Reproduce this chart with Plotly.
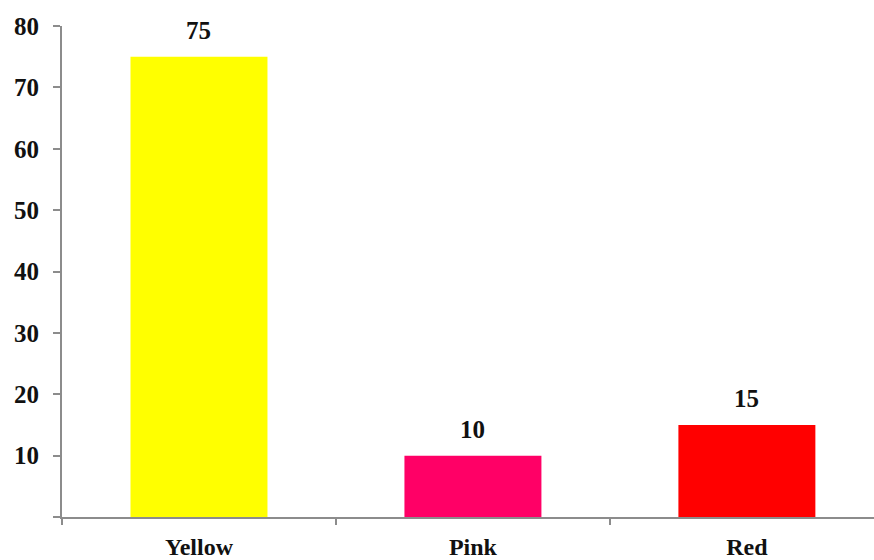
import plotly.graph_objects as go

categories = ["Yellow", "Pink", "Red"]
values = [75, 10, 15]
colors = ["#FFFF00", "#FF0066", "#FF0000"]
y_ticks = [0, 10, 20, 30, 40, 50, 60, 70, 80]
y_tick_text = ["" if v == 0 else str(v) for v in y_ticks]

font_family = "Liberation Serif, Times New Roman, serif"
axis_color = "#8c8c8c"

fig = go.Figure(
    go.Bar(
        x=categories,
        y=values,
        marker=dict(color=colors, line=dict(width=0)),
        width=0.5,
        hoverinfo="skip",
    )
)

# Value labels above each bar
for cat, val in zip(categories, values):
    fig.add_annotation(
        x=cat, y=val, text=f"<b>{val}</b>", showarrow=False,
        yanchor="bottom", yshift=11,
        font=dict(family=font_family, size=25, color="#111111"),
    )

fig.update_layout(
    width=874, height=560,
    margin=dict(l=62, r=0, t=26, b=43),
    paper_bgcolor="white", plot_bgcolor="white",
    showlegend=False,
    font=dict(family=font_family, size=25, color="#111111"),
)

fig.update_xaxes(
    range=[-0.5, 2.464],
    automargin=False,
    showline=True, linecolor=axis_color, linewidth=2,
    ticks="outside", tickson="boundaries", ticklen=6, tickcolor=axis_color, tickwidth=2,
    tickfont=dict(family=font_family, size=24, color="#111111", weight="bold"),
    ticklabelstandoff=7,
    showgrid=False, zeroline=False,
)

fig.update_yaxes(
    range=[0, 80],
    automargin=False,
    tickvals=y_ticks, ticktext=y_tick_text,
    showline=True, linecolor=axis_color, linewidth=2,
    ticks="outside", ticklen=7, tickcolor=axis_color, tickwidth=2,
    tickfont=dict(family=font_family, size=25, color="#111111", weight="bold"),
    ticklabelstandoff=9,
    showgrid=False, zeroline=False,
)

fig.write_html("out.html")
